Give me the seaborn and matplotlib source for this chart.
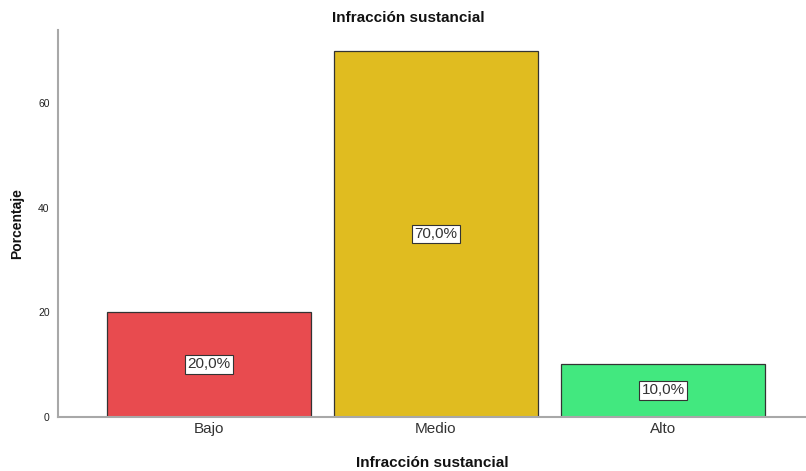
import matplotlib
matplotlib.use("Agg")
import matplotlib.pyplot as plt
import seaborn as sns
import pandas as pd

categories = ["Bajo", "Medio", "Alto"]
percent = [20.0, 70.0, 10.0]
bar_colors = ["#E84B4F", "#E0BC20", "#42E87F"]
yticks = [0, 20, 40, 60]

sns.set_theme(style="white")
plt.rcParams['font.family'] = ['Liberation Sans', 'DejaVu Sans']

df = pd.DataFrame({"cat": categories, "pct": percent})

fig = plt.figure(figsize=(8.06, 4.71), dpi=100)
ax = fig.add_axes([0.072, 0.1157, 0.928, 0.82])

sns.barplot(data=df, x="cat", y="pct", hue="cat", palette=bar_colors,
            order=categories, hue_order=categories, legend=False,
            width=0.9, edgecolor="#333333", linewidth=0.9, saturation=1, ax=ax)

for i, v in enumerate(percent):
    ax.text(i, v / 2, f"{v:.1f}%".replace(".", ","), ha="center", va="center",
            fontsize=11, color="#333333",
            bbox=dict(boxstyle="square,pad=0.15", facecolor="white",
                      edgecolor="#333333", linewidth=0.8))

ax.set_xlim(-0.665, 2.63)
ax.set_ylim(0, 74)
ax.set_yticks(yticks)
ax.set_yticklabels([str(t) for t in yticks], fontsize=7.5, color="#222222")
ax.tick_params(axis="x", labelsize=11, colors="#333333", length=0, pad=4)
ax.tick_params(axis="y", length=0, pad=6)
for s in ["top", "right"]:
    ax.spines[s].set_visible(False)
for s in ["left", "bottom"]:
    ax.spines[s].set_color("#A8A8A8")
    ax.spines[s].set_linewidth(1.5)

fig.text(408 / 806, 1 - 18 / 471, "Infracción sustancial", ha="center", va="center",
         fontsize=11, fontweight="bold", color="#111111")
ax.set_xlabel("Infracción sustancial", fontsize=11, fontweight="bold", labelpad=14, color="#111111")
ax.set_ylabel("Porcentaje", fontsize=10, fontweight="bold", labelpad=10, color="#111111")

fig.savefig("out.png", dpi=100)
